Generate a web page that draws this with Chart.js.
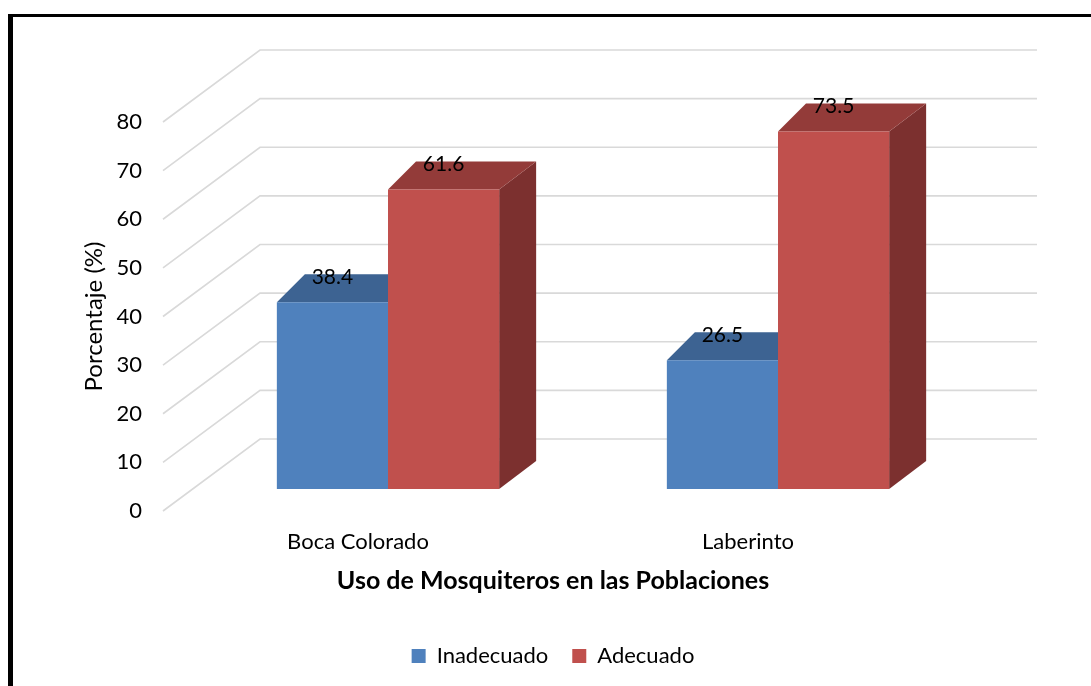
<!DOCTYPE html>
<html><head><meta charset="utf-8">
<script src="https://cdn.jsdelivr.net/npm/chart.js@4.4.1/dist/chart.umd.min.js"></script>
<style>
html,body{margin:0;padding:0;background:#fff;}
#wrap{position:relative;width:1091px;height:686px;overflow:hidden;}
canvas{position:absolute;left:0;top:0;}
#frame{position:absolute;left:8px;top:14px;width:1200px;height:800px;border-left:5px solid #000;border-top:3px solid #000;pointer-events:none;}
</style></head><body>
<div id="wrap"><canvas id="c" width="1091" height="686"></canvas><div id="frame"></div></div>
<script>
const categories = ['Boca Colorado', 'Laberinto'];
const seriesNames = ['Inadecuado', 'Adecuado'];
const inadecuado = [38.4, 26.5];
const adecuado = [61.6, 73.5];
const yMin = 0, yMax = 80, yStep = 10;

const FONT = 'Lato, "Open Sans", sans-serif';
const DX = 30, DY = -22;            // bar plane offset from axis front
const WALL_DX = 97, WALL_DY = -72;  // back wall offset
const EXT_L = 28, EXT_R = 37, EXT_Y = -28; // bar depth

const colors = {
  front: ['#4F81BD', '#C0504D'],
  top: ['#3D6392', '#933B39'],
  side: ['#375A86', '#7C302F']
};

const bars3d = {
  id: 'bars3d',
  beforeDatasetsDraw(chart) {
    const ctx = chart.ctx, ys = chart.scales.y, area = chart.chartArea;
    ctx.save();
    ctx.strokeStyle = '#d9d9d9';
    ctx.lineWidth = 1.6;
    ys.ticks.forEach(t => {
      const py = ys.getPixelForValue(t.value);
      ctx.beginPath();
      ctx.moveTo(area.left, py);
      ctx.lineTo(area.left + WALL_DX, py + WALL_DY);
      ctx.lineTo(area.right + WALL_DX - 3, py + WALL_DY);
      ctx.stroke();
    });
    ctx.restore();
    ctx.save();
    ctx.translate(DX, DY);
    chart.data.datasets.forEach((ds, di) => {
      const meta = chart.getDatasetMeta(di);
      meta.data.forEach(bar => {
        const p = bar.getProps(['x', 'y', 'base', 'width'], true);
        const x1 = p.x - p.width / 2, x2 = p.x + p.width / 2;
        ctx.fillStyle = colors.side[di];
        ctx.beginPath();
        ctx.moveTo(x2, p.y); ctx.lineTo(x2 + EXT_R, p.y + EXT_Y);
        ctx.lineTo(x2 + EXT_R, p.base + EXT_Y); ctx.lineTo(x2, p.base);
        ctx.closePath(); ctx.fill();
        ctx.fillStyle = colors.top[di];
        ctx.beginPath();
        ctx.moveTo(x1, p.y); ctx.lineTo(x2, p.y);
        ctx.lineTo(x2 + EXT_R, p.y + EXT_Y); ctx.lineTo(x1 + EXT_L, p.y + EXT_Y);
        ctx.closePath(); ctx.fill();
      });
    });
  },
  afterDatasetsDraw(chart) {
    const ctx = chart.ctx;
    ctx.restore();
    ctx.save();
    ctx.fillStyle = '#000';
    ctx.font = '21px ' + FONT;
    ctx.textAlign = 'center';
    ctx.textBaseline = 'middle';
    chart.data.datasets.forEach((ds, di) => {
      const meta = chart.getDatasetMeta(di);
      meta.data.forEach((bar, i) => {
        const p = bar.getProps(['x', 'y'], true);
        ctx.fillText(ds.data[i].toFixed(1), p.x + DX, p.y + DY - 25);
      });
    });
    ctx.restore();
  }
};

new Chart(document.getElementById('c'), {
  type: 'bar',
  data: {
    labels: categories,
    datasets: [
      { label: seriesNames[0], data: inadecuado, backgroundColor: colors.front[0], borderWidth: 0, clip: false },
      { label: seriesNames[1], data: adecuado, backgroundColor: colors.front[1], borderWidth: 0, clip: false }
    ]
  },
  options: {
    responsive: false,
    animation: false,
    devicePixelRatio: 1,
    layout: { padding: { left: 0, right: 148, top: 122, bottom: 9 } },
    datasets: { bar: { barPercentage: 1, categoryPercentage: 0.57 } },
    plugins: {
      legend: {
        position: 'bottom',
        fullSize: false,
        labels: { boxWidth: 14, boxHeight: 14, color: '#000', font: { family: FONT, size: 22 }, padding: 24 }
      },
      tooltip: { enabled: false }
    },
    scales: {
      x: {
        grid: { display: false, drawTicks: false },
        border: { display: false },
        ticks: { color: '#000', font: { family: FONT, size: 22 }, padding: 18 },
        title: { display: true, text: 'Uso de Mosquiteros en las Poblaciones', color: '#000',
                 font: { family: FONT, size: 25, weight: 'bold' }, padding: { top: 0, bottom: 25 } },
        afterFit(s) { s.height = 110; }
      },
      y: {
        min: yMin, max: yMax,
        grid: { display: false, drawTicks: false },
        border: { display: false },
        ticks: { stepSize: yStep, color: '#000', font: { family: FONT, size: 22 }, padding: 21 },
        title: { display: true, text: 'Porcentaje (%)', color: '#000',
                 font: { family: FONT, size: 24 }, padding: { top: 80, bottom: 0 } },
        afterFit(s) { s.width = 163; }
      }
    }
  },
  plugins: [bars3d]
});
</script>
</body></html>
